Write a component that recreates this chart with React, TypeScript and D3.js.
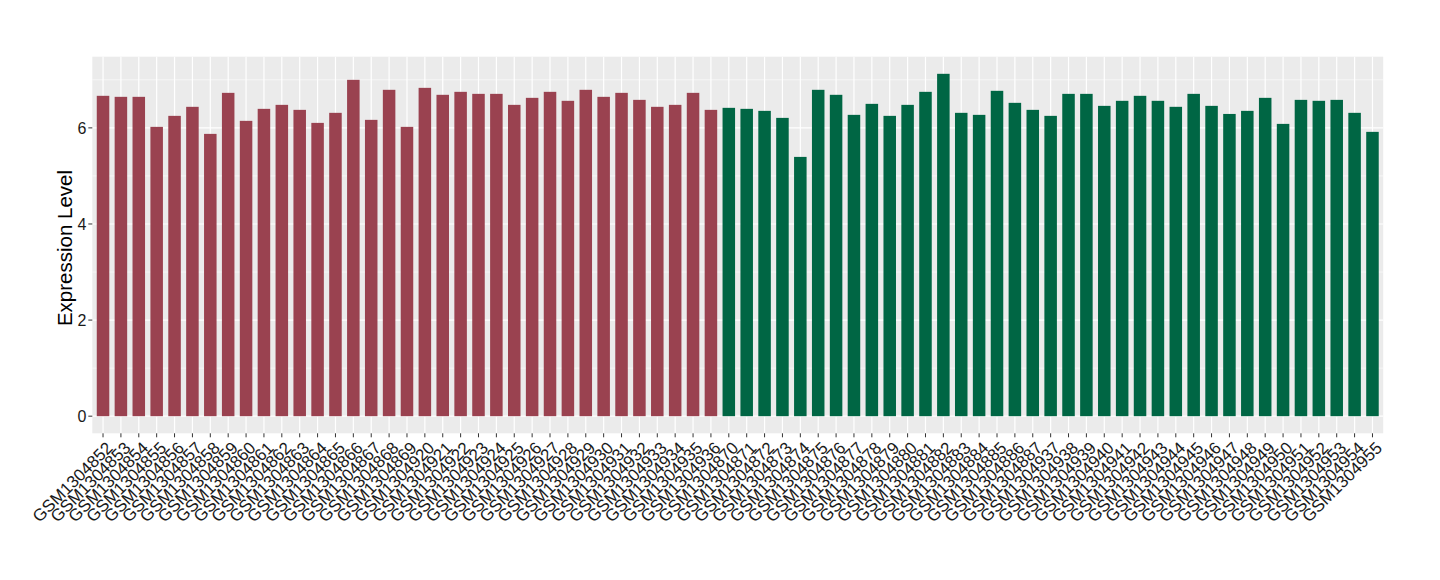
import React from "react";
import * as d3 from "d3";

const redSamples = [
  "GSM1304852", "GSM1304853", "GSM1304854", "GSM1304855", "GSM1304856", "GSM1304857",
  "GSM1304858", "GSM1304859", "GSM1304860", "GSM1304861", "GSM1304862", "GSM1304863",
  "GSM1304864", "GSM1304865", "GSM1304866", "GSM1304867", "GSM1304868", "GSM1304869",
  "GSM1304920", "GSM1304921", "GSM1304922", "GSM1304923", "GSM1304924", "GSM1304925",
  "GSM1304926", "GSM1304927", "GSM1304928", "GSM1304929", "GSM1304930", "GSM1304931",
  "GSM1304932", "GSM1304933", "GSM1304934", "GSM1304935", "GSM1304936",
];
const redValues = [
  6.667, 6.646, 6.646, 6.021, 6.25, 6.438, 5.875, 6.729, 6.146, 6.396, 6.479, 6.375,
  6.104, 6.313, 7.0, 6.167, 6.792, 6.021,
  6.833, 6.688, 6.75, 6.708, 6.708, 6.479, 6.625, 6.75, 6.563, 6.792, 6.646, 6.729,
  6.583, 6.438, 6.479, 6.729, 6.375,
];
const greenSamples = [
  "GSM1304870", "GSM1304871", "GSM1304872", "GSM1304873", "GSM1304874", "GSM1304875",
  "GSM1304876", "GSM1304877", "GSM1304878", "GSM1304879", "GSM1304880", "GSM1304881",
  "GSM1304882", "GSM1304883", "GSM1304884", "GSM1304885", "GSM1304886", "GSM1304887",
  "GSM1304937", "GSM1304938", "GSM1304939", "GSM1304940", "GSM1304941", "GSM1304942",
  "GSM1304943", "GSM1304944", "GSM1304945", "GSM1304946", "GSM1304947", "GSM1304948",
  "GSM1304949", "GSM1304950", "GSM1304951", "GSM1304952", "GSM1304953", "GSM1304954",
  "GSM1304955",
];
const greenValues = [
  6.417, 6.396, 6.354, 6.208, 5.396, 6.792, 6.688, 6.271, 6.5, 6.25, 6.479, 6.75,
  7.125, 6.313, 6.271, 6.771, 6.521, 6.375,
  6.25, 6.708, 6.708, 6.458, 6.563, 6.667, 6.563, 6.438, 6.708, 6.458, 6.29, 6.354,
  6.625, 6.083, 6.583, 6.563, 6.583, 6.313, 5.917,
];
const yTicks = [0, 2, 4, 6];
const yMinor = [1, 3, 5, 7];
const groupColors = ["#9A4250", "#006644"];

export default function App() {
  const W = 1440, H = 580;
  const left = 92.3, right = 1383.2, top = 56.7, bottom = 433.3;

  const data = [
    ...redSamples.map((s, i) => ({ s, v: redValues[i], g: 0 })),
    ...greenSamples.map((s, i) => ({ s, v: greenValues[i], g: 1 })),
  ];
  const x = d3.scalePoint<string>().domain(data.map((d) => d.s)).range([left, right]).padding(0.6);
  const step = x.step();
  const bw = step * 0.7;
  const ymax = d3.max(data, (d) => d.v) as number;
  const y = d3.scaleLinear().domain([-0.05 * ymax, ymax * 1.05]).range([bottom, top]);

  const font = "'Liberation Sans', Arial, Helvetica, sans-serif";

  return (
    <svg width={W} height={H} style={{ display: "block", position: "absolute", left: 0, top: 0 }} fontFamily={font}>
      <rect x={0} y={0} width={W} height={H} fill="#fff" />
      <rect x={left} y={top} width={right - left} height={bottom - top} fill="#EBEBEB" />
      {yMinor.map((t) => (
        <line key={"m" + t} x1={left} x2={right} y1={y(t)} y2={y(t)} stroke="#fff" strokeWidth={0.6} />
      ))}
      {yTicks.map((t) => (
        <line key={"g" + t} x1={left} x2={right} y1={y(t)} y2={y(t)} stroke="#fff" strokeWidth={1.2} />
      ))}
      {data.map((d) => (
        <line key={"v" + d.s} x1={x(d.s)} x2={x(d.s)} y1={top} y2={bottom} stroke="#fff" strokeWidth={1.2} />
      ))}
      {data.map((d) => (
        <rect
          key={"b" + d.s}
          x={(x(d.s) as number) - bw / 2}
          y={y(d.v)}
          width={bw}
          height={y(0) - y(d.v)}
          fill={groupColors[d.g]}
        />
      ))}
      {yTicks.map((t) => (
        <g key={"yt" + t}>
          <line x1={left - 4} x2={left} y1={y(t)} y2={y(t)} stroke="#333" strokeWidth={1} />
          <text x={left - 6} y={y(t)} dy="0.36em" textAnchor="end" fontSize={16} fill="#1a1a1a">
            {t}
          </text>
        </g>
      ))}
      {data.map((d) => (
        <g key={"xt" + d.s}>
          <line x1={x(d.s)} x2={x(d.s)} y1={bottom} y2={bottom + 4} stroke="#333" strokeWidth={1} />
          <text
            transform={`translate(${(x(d.s) as number) + 2},${bottom + 7}) rotate(-45)`}
            textAnchor="end"
            dy="0.72em"
            fontSize={17}
            fill="#1a1a1a"
          >
            {d.s}
          </text>
        </g>
      ))}
      <text
        transform={`translate(72,${(top + bottom) / 2 + 3}) rotate(-90)`}
        textAnchor="middle"
        fontSize={20.5}
        fill="#000"
      >
        Expression Level
      </text>
    </svg>
  );
}
